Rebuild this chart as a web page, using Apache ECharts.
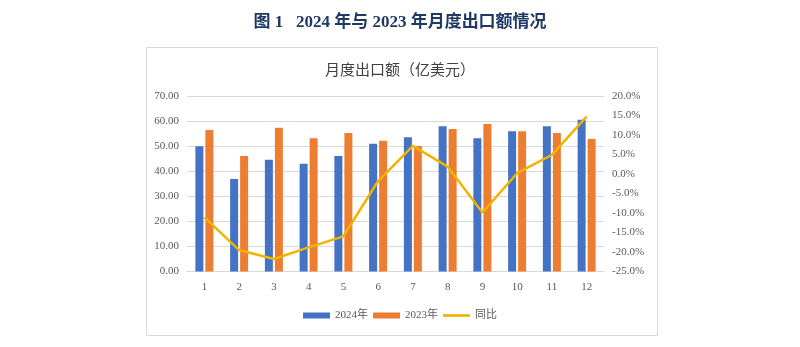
<!DOCTYPE html>
<html>
<head>
<meta charset="utf-8">
<script src="https://cdn.jsdelivr.net/npm/echarts@6/dist/echarts.min.js"></script>
<style>
html,body{margin:0;padding:0;background:#fff;}
#c{width:800px;height:347px;}
</style>
</head>
<body>
<div id="c"></div>
<script>
var months = ['1','2','3','4','5','6','7','8','9','10','11','12'];
var exports2024 = [50.0, 36.9, 44.6, 43.0, 46.1, 51.0, 53.5, 57.9, 53.1, 55.9, 57.9, 60.5];
var exports2023 = [56.4, 46.1, 57.3, 53.1, 55.2, 52.2, 50.1, 56.8, 58.8, 55.9, 55.2, 52.8];
var yoyPct = [-11.1, -19.5, -21.8, -18.8, -16.0, -1.8, 7.2, 1.9, -9.9, 0.2, 4.9, 14.7];
var seriesNames = ['2024年', '2023年', '同比'];

var serif = '"Liberation Serif", "DejaVu Serif", "Noto Sans CJK SC", serif';
var chart = echarts.init(document.getElementById('c'), null, {renderer: 'canvas'});
chart.setOption({
  animation: false,
  backgroundColor: '#fff',
  graphic: [{
    type: 'rect', left: 144, top: 45,
    shape: {width: 511, height: 288},
    style: {fill: 'none', stroke: '#d9d9d9', lineWidth: 1},
    silent: true
  }],
  title: [{
    text: '图 1   2024 年与 2023 年月度出口额情况',
    left: 'center', top: 9,
    textStyle: {fontFamily: serif, fontSize: 17, fontWeight: 'bold', color: '#1f3864'}
  }, {
    text: '月度出口额（亿美元）',
    left: 'center', top: 59,
    textStyle: {fontFamily: serif, fontSize: 15, fontWeight: 'normal', color: '#404040'}
  }],
  legend: {
    bottom: 21, left: 'center',
    itemWidth: 27, itemHeight: 6, itemGap: 5,
    textStyle: {fontFamily: serif, fontSize: 11, color: '#595959'},
    data: [
      {name: seriesNames[0], icon: 'rect'},
      {name: seriesNames[1], icon: 'rect'},
      {name: seriesNames[2], icon: 'path://M0 0H30V3H0Z'}
    ]
  },
  grid: {left: 187, right: 196, top: 96, bottom: 75.5},
  xAxis: {
    type: 'category', data: months,
    axisLine: {show: true, lineStyle: {color: '#d9d9d9'}},
    axisTick: {show: false},
    axisLabel: {fontFamily: serif, fontSize: 11, color: '#595959', margin: 10}
  },
  yAxis: [{
    type: 'value', min: 0, max: 70, interval: 10,
    axisLine: {show: false}, axisTick: {show: false},
    splitLine: {lineStyle: {color: '#d9d9d9'}},
    axisLabel: {fontFamily: serif, fontSize: 11, color: '#595959', margin: 8,
      formatter: function (v) { return v.toFixed(2); }}
  }, {
    type: 'value', min: -25, max: 20, interval: 5,
    axisLine: {show: false}, axisTick: {show: false},
    splitLine: {show: false},
    axisLabel: {fontFamily: serif, fontSize: 11, color: '#595959', margin: 8,
      formatter: function (v) { return v.toFixed(1) + '%'; }}
  }],
  series: [{
    name: seriesNames[0], type: 'bar', data: exports2024,
    barWidth: 8, barGap: '25%',
    itemStyle: {color: '#4472c4'}
  }, {
    name: seriesNames[1], type: 'bar', data: exports2023,
    barWidth: 8, barGap: '25%',
    itemStyle: {color: '#ed7d31'}
  }, {
    name: seriesNames[2], type: 'line', yAxisIndex: 1, data: yoyPct,
    symbol: 'none', lineStyle: {color: '#f0b400', width: 2.5},
    itemStyle: {color: '#f0b400'}
  }]
});
</script>
</body>
</html>
